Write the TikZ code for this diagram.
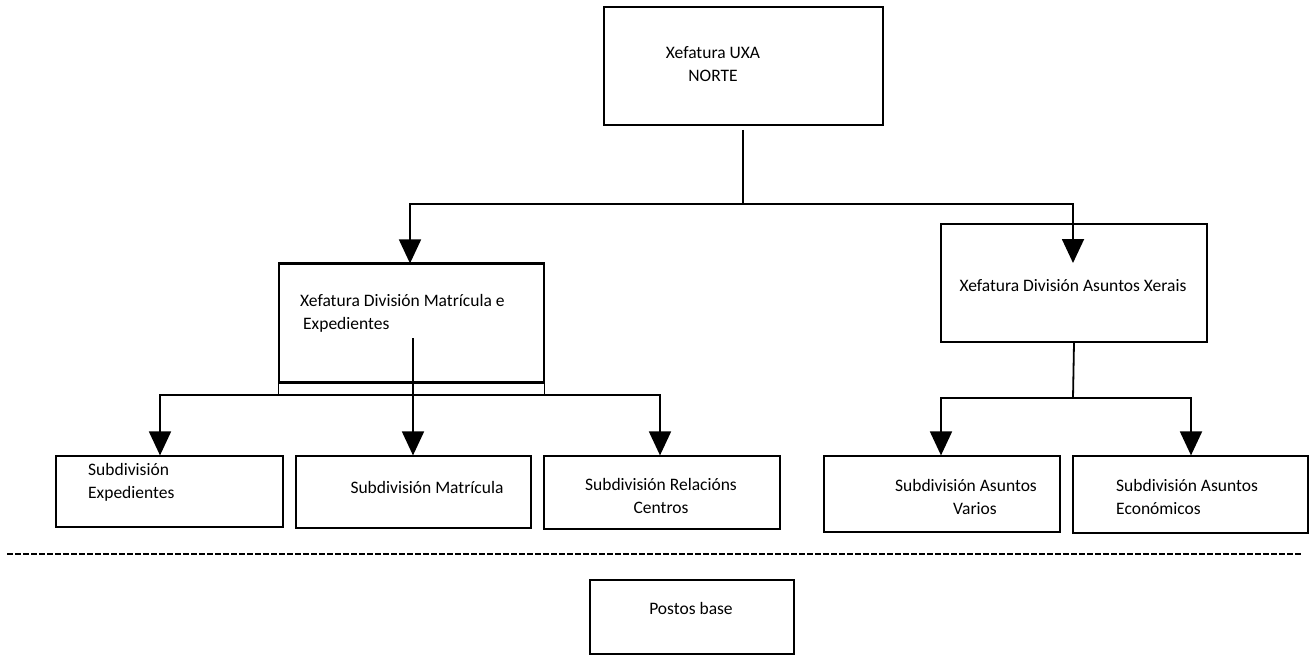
\documentclass[tikz,border=0pt]{standalone}
\usepackage{fontspec}
\setmainfont{Carlito}
\usetikzlibrary{arrows.meta}
\begin{document}
\begin{tikzpicture}[x=1pt,y=-1pt,
  box/.style={draw=black,line width=1.2pt,rectangle,inner sep=0pt},
  lbl/.style={inner sep=0pt,font=\fontsize{17.5pt}{23pt}\selectfont},
  link/.style={line width=1.8pt},
  arr/.style={line width=1.8pt,-{Triangle[width=22pt,length=24pt]}},
  sep/.style={line width=2pt,dash pattern=on 6pt off 2pt}]
\useasboundingbox (0,0) rectangle (1314,655);
\clip (0,0) rectangle (1314,655);

% boxes
\node[box,minimum width=279pt,minimum height=118pt] (top) at (743.5,66) {};
\node[box,minimum width=265pt,minimum height=118pt] (mat) at (411.5,323) {};
\node[box,minimum width=266pt,minimum height=118pt] (axe) at (1074,283) {};
\node[box,minimum width=227pt,minimum height=71pt] (s1) at (169.5,491.5) {};
\node[box,minimum width=235pt,minimum height=72pt] (s2) at (413.5,492) {};
\node[box,minimum width=236pt,minimum height=73pt] (s3) at (662,492.5) {};
\node[box,minimum width=236pt,minimum height=76pt] (s4) at (942,494) {};
\node[box,minimum width=235pt,minimum height=77pt] (s5) at (1190.5,494.5) {};
\node[box,minimum width=204pt,minimum height=74pt] (pb) at (692,617) {};

% heavier top edge and doubled foot of the Matrícula box
\draw[line width=2.6pt] (mat.north west) -- (mat.north east);
\draw[line width=2pt] (mat.south west) -- (mat.south east);
\draw[line width=1.2pt] (mat.south west) -- ++(0,13);
\draw[line width=1.2pt] (mat.south east) -- ++(0,13);

% texts
\node[lbl,align=center] (t0) at (713,64) {Xefatura UXA\\NORTE};
\node[lbl,align=left,anchor=west] (t1) at (300,313) {Xefatura División Matrícula e\\\hspace*{3pt}Expedientes};
\node[lbl] (t2) at (1073,286) {Xefatura División Asuntos Xerais};
\node[lbl,align=left,anchor=west] (t3) at (88,482) {Subdivisión\\Expedientes};
\node[lbl] (t4) at (427,487) {Subdivisión Matrícula};
\node[lbl,align=center] (t5) at (661,496) {Subdivisión Relacións\\Centros};
\node[lbl,align=center] (t6) at (966,497) {Subdivisión Asuntos\\\hspace*{18pt}Varios};
\node[lbl,align=left,anchor=west] (t7) at (1116,497) {Subdivisión Asuntos\\Económicos};
\node[lbl] (t8) at (691,608) {Postos base};

% connectors from the head office
\coordinate (c0) at (743,130);
\coordinate (j0) at (743,204);
\coordinate (atip) at (1073,263);
\draw[link] (c0) -- (j0);
\draw[arr] (j0) -| ([xshift=-1.5pt]mat.north);
\draw[arr] (j0) -| (atip);

% connectors below the Matrícula division
\coordinate (c1) at (413,338);
\coordinate (j1) at (413,395);
\draw[arr] (c1) -- ([xshift=-0.5pt]s2.north);
\draw[arr] (j1) -| ([xshift=-9.5pt]s1.north);
\draw[arr] (j1) -| ([xshift=-2pt]s3.north);

% connectors below the Asuntos Xerais division
\coordinate (j2) at (1073,398);
\draw[link] (axe.south) -- (j2);
\draw[arr] (j2) -| ([xshift=-1pt]s4.north);
\draw[arr] (j2) -| ([xshift=0.5pt]s5.north);

% separator line
\coordinate (d0) at (7,554);
\coordinate (d1) at (1302,554);
\draw[sep] (d0) -- (d1);
\end{tikzpicture}
\end{document}
